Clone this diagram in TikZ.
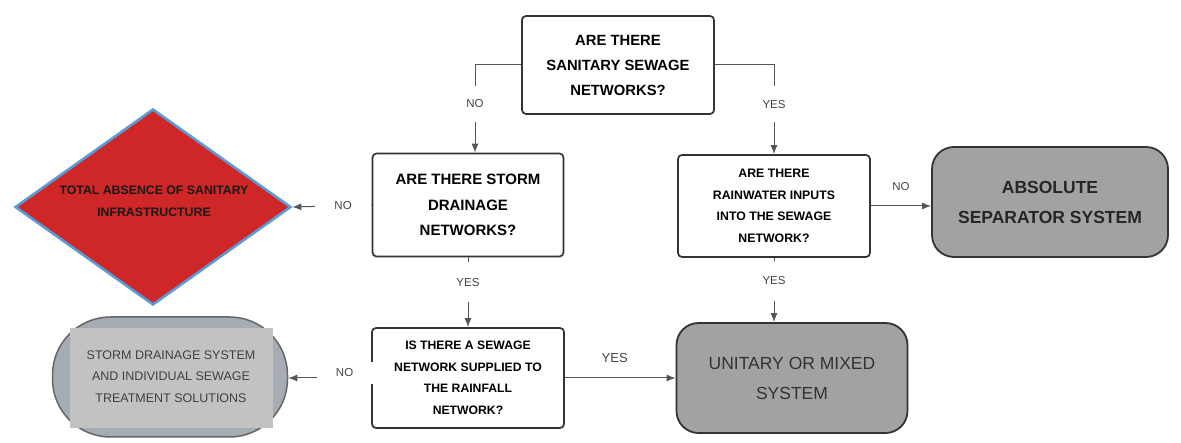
\documentclass[tikz,border=0pt]{standalone}
\usepackage{fontspec}
\setmainfont{Liberation Sans}
\usetikzlibrary{shapes.geometric,arrows.meta}
\definecolor{edge}{HTML}{333333}
\definecolor{wire}{HTML}{555555}
\definecolor{lbl}{HTML}{444444}
\definecolor{boxgray}{HTML}{A2A2A2}
\definecolor{alarm}{HTML}{CF2727}
\definecolor{alarmedge}{HTML}{5B9BD5}
\definecolor{capsule}{HTML}{A5ACB4}
\definecolor{capsulein}{HTML}{C2C2C2}
\tikzset{
  question/.style={draw=edge, line width=1.7pt, rounded corners=4pt, fill=white,
    align=center, inner sep=0pt, font=\bfseries},
  outcome/.style={draw=edge, line width=1.8pt, rounded corners=22pt, fill=boxgray,
    align=center, inner sep=0pt},
  flow/.style={draw=wire, line width=1pt, -{Latex[length=9pt,width=7pt]}},
  tag/.style={text=lbl, font=\fontsize{11.5}{13}\selectfont, fill=white, inner sep=1pt}
}
\begin{document}
\begin{tikzpicture}[x=1pt,y=-1pt]
\useasboundingbox (0,0) rectangle (1181,443);

% decision boxes
\node[question, minimum width=192pt, minimum height=98pt,
  font=\bfseries\fontsize{14.8}{25}\selectfont] (top) at (618,65)
  {ARE THERE\\SANITARY SEWAGE\\NETWORKS?};
\node[question, minimum width=191pt, minimum height=103pt,
  font=\bfseries\fontsize{15}{25.5}\selectfont] (storm) at (468,205)
  {ARE THERE STORM\\DRAINAGE\\NETWORKS?};
\node[question, minimum width=192pt, minimum height=102pt,
  font=\bfseries\fontsize{12.3}{21.5}\selectfont] (rain) at (774,206)
  {ARE THERE\\RAINWATER INPUTS\\INTO THE SEWAGE\\NETWORK?};
\node[question, minimum width=192pt, minimum height=100pt,
  font=\bfseries\fontsize{12.2}{21.5}\selectfont] (supply) at (468,378)
  {IS THERE A SEWAGE\\NETWORK SUPPLIED TO\\THE RAINFALL\\NETWORK?};

% outcome boxes
\node[outcome, minimum width=236pt, minimum height=110pt,
  font=\bfseries\fontsize{17.5}{30}\selectfont, text=black!85] (abs) at (1050,202)
  {ABSOLUTE\\SEPARATOR SYSTEM};
\node[outcome, minimum width=231pt, minimum height=110pt,
  font=\fontsize{17.5}{30}\selectfont, text=black!80] (mixed) at (792,378)
  {UNITARY OR MIXED\\SYSTEM};

% no sanitary infrastructure at all
\node[diamond, draw=alarmedge, line width=2.6pt, fill=alarm,
  minimum width=276pt, minimum height=196pt, inner sep=0pt] (none) at (153,207) {};
\node[align=center, font=\bfseries\fontsize{12.3}{22}\selectfont, text=black!90]
  (nonetxt) at (154,201) {TOTAL ABSENCE OF SANITARY\\INFRASTRUCTURE};

% storm drainage with individual treatment
\node[draw=black!60, line width=1.5pt, rounded corners=58pt, fill=capsule,
  minimum width=235pt, minimum height=120pt, inner sep=0pt] (indiv) at (170,377) {};
\node[fill=capsulein, minimum width=203pt, minimum height=100pt, inner sep=0pt,
  align=center, font=\fontsize{12.5}{21.5}\selectfont, text=black!75, anchor=center]
  (indivtxt) at (171,378) {\raisebox{26pt}{\parbox{200pt}{\centering STORM DRAINAGE SYSTEM\\AND INDIVIDUAL SEWAGE\\TREATMENT SOLUTIONS}}};

% connectors
\draw[flow] (top.west) -| node[tag, pos=0.72, minimum height=36pt] {NO} ([xshift=7pt]storm.north);
\draw[flow] (top.east) -| node[tag, pos=0.72, minimum height=36pt] {YES} (rain.north);
\draw[flow] (storm.west) -- node[tag, pos=0.36, minimum width=56pt] {NO} (none.east);
\draw[flow] (storm.south) -- node[tag, pos=0.36, minimum height=40pt] {YES} (supply.north);
\draw[flow] (rain.south) -- node[tag, pos=0.36, minimum height=40pt] {YES} (rain.south |- mixed.north);
\draw[flow] (rain.east) -- node[tag, above=14pt, fill=none] {NO} (rain.east -| abs.west);
\draw[flow] (supply.east) -- node[tag, above=14pt, fill=none, font=\fontsize{13}{15}\selectfont, pos=0.45] {YES} (mixed.west);
\draw[flow] (supply.west) -- node[tag, pos=0.32, minimum width=56pt, minimum height=22pt, yshift=5pt] {NO} (supply.west -| indiv.east);
\end{tikzpicture}
\end{document}
